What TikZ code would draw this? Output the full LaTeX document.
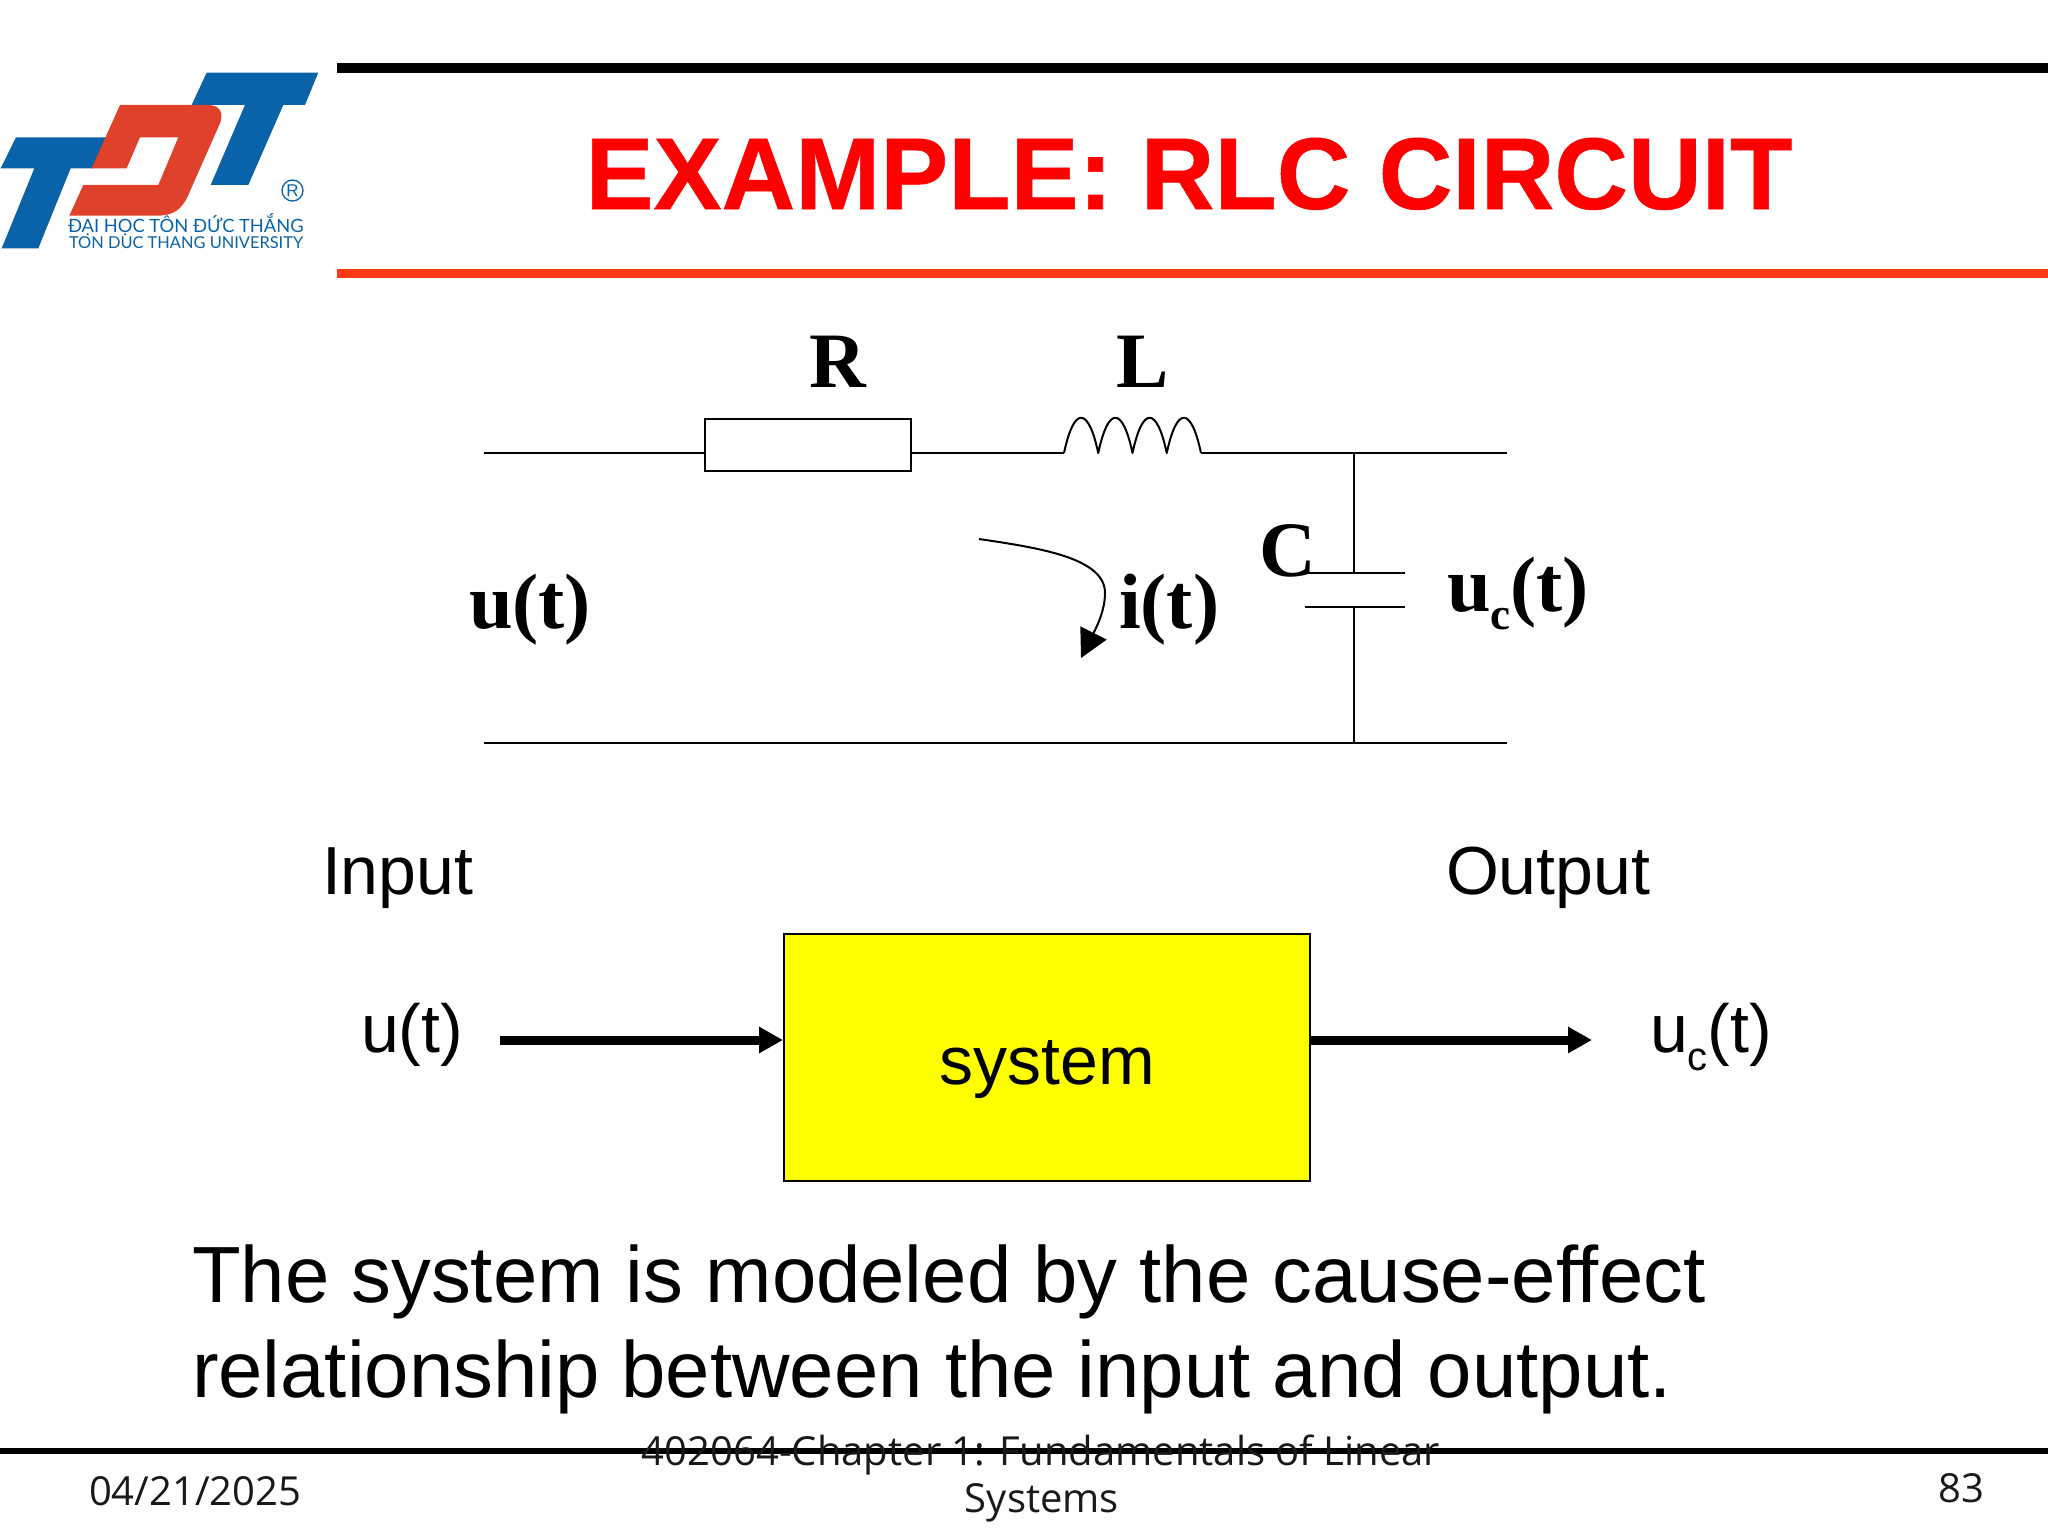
\documentclass[tikz,border=0pt]{standalone}
\usepackage{fontspec}
\setmainfont{Liberation Sans}
\newfontfamily\cirfont{Liberation Serif}
\newfontfamily\footfont{Open Sans}
\newfontfamily\logofont{Lato}
\newfontfamily\titlefont{Liberation Sans Bold}[FakeBold=0.5]
\usetikzlibrary{arrows.meta}
\definecolor{logoblue}{HTML}{0A62A8}
\definecolor{logored}{HTML}{E0412A}
\definecolor{rulered}{HTML}{FF3814}
\definecolor{boxyellow}{HTML}{FFFF00}
\definecolor{titlered}{HTML}{FF0000}
\newcommand{\fs}[1]{\fontsize{#1}{#1}\selectfont}
\tikzset{
  txt/.style={inner sep=0pt,outer sep=0pt,anchor=base west},
  wire/.style={line width=2pt,black},
  cirlabel/.style={txt,font=\cirfont\bfseries\fs{78.5}},
  blocklabel/.style={txt,font=\fs{68}},
  bodytext/.style={txt,font=\fs{79.7}},
  foot/.style={inner sep=0pt,outer sep=0pt,font=\footfont\fs{40},text=black!90},
  sigarrow/.style={line width=9pt,-{Triangle[length=24pt,width=25pt]},shorten >=0pt},
  logotext/.style={txt,text=logoblue,font=\logofont\fs{18}},
}
\begin{document}
\begin{tikzpicture}[x=1pt,y=-1pt]
\useasboundingbox (0,0) rectangle (2048,1536);
% rules
\coordinate (topA) at (337,68); \coordinate (topB) at (2048,68);
\coordinate (redA) at (337,273); \coordinate (redB) at (2048,273);
\coordinate (footA) at (0,1451); \coordinate (footB) at (2048,1451);
\draw[line width=10pt,black] (topA) -- (topB);
\draw[line width=9pt,rulered] (redA) -- (redB);
\draw[line width=6pt,black] (footA) -- (footB);
% logo
\begin{scope}[x=0.3333pt,y=-0.3333pt,yshift=-50pt]
\fill[logoblue] (48,262) -- (320,262) -- (280,355) -- (212,355) -- (115,595) -- (5,595) -- (103,355) -- (2,355) -- cycle;
\fill[logoblue] (620,68) -- (955,68) -- (915,165) -- (850,165) -- (745,405) -- (632,405) -- (735,165) -- (575,165) -- cycle;
\fill[logored] (360,165) -- (625,165) .. controls (660,165) and (672,190) .. (660,220) -- (565,435) .. controls (545,480) and (520,497) .. (470,497) -- (208,497) -- (250,405) -- (475,405) -- (535,262) -- (420,262) -- (380,355) -- (275,355) -- cycle;
\end{scope}
\coordinate (regc) at (292.5,190.5);
\draw[logoblue,line width=1.3pt] (regc) circle (10.5pt);
\node[inner sep=0pt,text=logoblue,font=\fs{17}] (reg) at (regc) {R};
\node[logotext,font=\logofont\fs{18.3}] (logoA) at (68,232.5) {ĐẠI HỌC TÔN ĐỨC THẮNG};
\node[logotext,font=\logofont\fs{16.4}] (logoB) at (69,248) {TON DUC THANG UNIVERSITY};
% title
\node[txt,anchor=base,text=titlered,font=\titlefont\fs{102}] (title) at (1189,209) {EXAMPLE: RLC CIRCUIT};
% circuit
\coordinate (wTL) at (484,453); \coordinate (wTR) at (1507,453);
\coordinate (wBL) at (484,743); \coordinate (wBR) at (1507,743);
\coordinate (ind1) at (1064,453); \coordinate (ind2) at (1201,453);
\coordinate (jT) at (1354,453); \coordinate (jB) at (1354,743);
\coordinate (plA) at (1354,573); \coordinate (plB) at (1354,607);
\node[draw,wire,minimum width=206pt,minimum height=52pt,inner sep=0pt] (res) at (808,445) {};
\draw[wire] (wTL) -- (res.west |- wTL);
\draw[wire] (res.east |- wTL) -- (ind1);
\draw[wire,line join=round] (ind1)
  .. controls +(10,-47) and +(-10,-47) .. ++(34.25,0)
  .. controls +(10,-47) and +(-10,-47) .. ++(34.25,0)
  .. controls +(10,-47) and +(-10,-47) .. ++(34.25,0)
  .. controls +(10,-47) and +(-10,-47) .. (ind2);
\draw[wire] (ind2) -- (wTR);
\draw[wire] (wBL) -- (wBR);
\draw[wire] (jT) -- (plA);
\draw[wire] (plB) -- (jB);
\draw[wire] ([xshift=-49pt]plA) -- ([xshift=51pt]plA);
\draw[wire] ([xshift=-49pt]plB) -- ([xshift=51pt]plB);
\coordinate (iS) at (979,539); \coordinate (iM) at (1105,593); \coordinate (iE) at (1081,658);
\draw[wire,-{Triangle[length=28pt,width=29pt]}] (iS) .. controls (1040,548) and (1105,558) .. (iM) .. controls (1105,612) and (1095,630) .. (iE);
\node[cirlabel] (lR) at (809,387) {R};
\node[cirlabel] (lL) at (1116,387) {L};
\node[cirlabel] (lu) at (469,628) {u(t)};
\node[cirlabel] (li) at (1119,628) {i(t)};
\node[cirlabel] (lC) at (1259,576) {C};
\node[cirlabel] (luc) at (1447,611) {u\raisebox{-18pt}{\fs{45}c}(t)};
% block
\node[draw=black,line width=2pt,fill=boxyellow,minimum width=526pt,minimum height=247pt,inner sep=0pt] (sys) at (1047,1057.5) {};
\node[blocklabel,anchor=base] (syst) at (1047,1084) {system};
\coordinate (inS) at (500,1040); \coordinate (outE) at (1592,1040);
\draw[sigarrow] (inS) -- (sys.west |- inS);
\draw[sigarrow] (sys.east |- outE) -- (outE);
\node[blocklabel] (lin) at (322,894) {Input};
\node[blocklabel] (lout) at (1446,894) {Output};
\node[blocklabel] (lu2) at (361,1052) {u(t)};
\node[blocklabel] (luc2) at (1650,1052) {u\raisebox{-18pt}{\fs{40}c}(t)};
% body
\node[bodytext] (b1) at (192,1302) {The system is modeled by the cause-effect};
\node[bodytext] (b2) at (192,1397) {relationship between the input and output.};
% footer
\node[foot,anchor=base west] (fd) at (89,1505) {04/21/2025};
\node[foot,anchor=base] (fc1) at (1041,1465) {402064-Chapter 1: Fundamentals of Linear};
\node[foot,anchor=base] (fc2) at (1042,1512) {Systems};
\node[foot,anchor=base east] (fn) at (1984,1502) {83};
\end{tikzpicture}
\end{document}
